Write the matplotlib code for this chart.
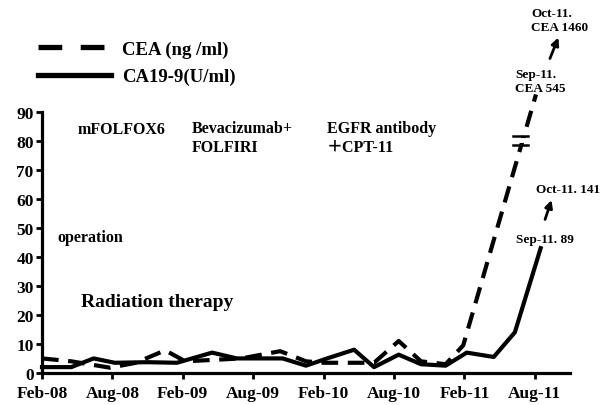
import matplotlib
matplotlib.use('Agg')
import matplotlib.pyplot as plt
from matplotlib.lines import Line2D

# months counted from Feb-08
ca_months = [0, 2.5, 4.4, 6.2, 9, 11.5, 14.5, 16.6, 20.5, 22.5, 24.3, 26.6, 28.3, 30.4, 32.3, 34.4, 36.2, 38.5, 40.3, 42.5]
ca199 = [2, 2, 5, 3.5, 3.7, 3.5, 7, 5, 5, 2.5, 5, 8, 2, 6.3, 3, 2.5, 7, 5.5, 14, 43]

cea_months = [0, 2.5, 5.8, 8, 10.5, 12.2, 14.6, 17, 20.3, 22.5, 24, 28.3, 30.4, 32.3, 34.4, 35.9, 42.1]
cea = [5, 4, 1.8, 3.5, 7.8, 4, 4.5, 5, 7.5, 4, 3.5, 3.5, 11, 4, 3, 9.5, 96]  # last point drawn above the axis break

tick_months = [0, 6, 12, 18, 24, 30, 36, 42]
tick_labels = ['Feb-08', 'Aug-08', 'Feb-09', 'Aug-09', 'Feb-10', 'Aug-10', 'Feb-11', 'Aug-11']
y_ticks = list(range(0, 91, 10))

plt.rcParams['font.family'] = ['Liberation Serif', 'Noto Sans CJK JP']
plt.rcParams['font.weight'] = 'bold'

fig = plt.figure(figsize=(6, 4.06), dpi=100)
ax = fig.add_axes([0.07, 0.079, 0.88, 0.643])

ax.plot(cea_months, cea, color='black', lw=3, linestyle=(0, (4, 2.3)), clip_on=False)
ax.plot(ca_months, ca199, color='black', lw=3, clip_on=False)

ax.set_xlim(0, 45)
ax.set_ylim(0, 90)
ax.set_xticks(tick_months)
ax.set_xticklabels(tick_labels)
ax.set_yticks(y_ticks)
for s in ['top', 'right']:
    ax.spines[s].set_visible(False)
for s in ['left', 'bottom']:
    ax.spines[s].set_linewidth(2.3)
ax.tick_params(axis='both', width=2, length=4, labelsize=12.5, direction='out')
ax.tick_params(axis='x', pad=5)
ax.tick_params(axis='y', pad=2)
for lab in ax.get_xticklabels() + ax.get_yticklabels():
    lab.set_fontweight('bold')

# axis break marks on the CEA line
ax.plot([40.1, 41.4], [80.2, 80.2], color='white', lw=3.5, clip_on=False)
ax.plot([40.1, 41.4], [81.8, 81.8], color='black', lw=1.8, clip_on=False)
ax.plot([40.1, 41.4], [78.6, 78.6], color='black', lw=1.8, clip_on=False)

# treatment labels
ax.text(3.0, 84.2, 'mFOLFOX6', fontsize=11.5, fontweight='bold', va='center')
ax.text(12.8, 81.1, 'Bevacizumab+\nFOLFIRI', fontsize=11.5, fontweight='bold', va='center', linespacing=1.2)
ax.text(24.3, 81.1, 'EGFR antibody\n\uff0bCPT-11', fontsize=11.5, fontweight='bold', va='center', linespacing=1.2)
ax.text(1.3, 46.9, 'operation', fontsize=11.5, fontweight='bold', va='center')
ax.text(3.3, 24.5, 'Radiation therapy', fontsize=14, fontweight='bold', va='center')

# marker annotations at the top right
ax.text(41.7, 121.7, 'Oct-11.\nCEA 1460', fontsize=9.5, fontweight='bold', va='center', linespacing=1.15)
ax.annotate('', xy=(44.1, 116.5), xytext=(43.2, 107.5), annotation_clip=False,
            arrowprops=dict(arrowstyle='-|>', lw=2, color='black', mutation_scale=11))
ax.text(40.3, 100.6, 'Sep-11.\nCEA 545', fontsize=9.5, fontweight='bold', va='center', linespacing=1.15)
ax.text(42.1, 63.5, 'Oct-11. 141', fontsize=9.5, fontweight='bold', va='center')
ax.annotate('', xy=(43.5, 60.5), xytext=(42.8, 52), annotation_clip=False,
            arrowprops=dict(arrowstyle='-|>', lw=2, color='black', mutation_scale=11))
ax.text(40.4, 46.3, 'Sep-11. 89', fontsize=9.5, fontweight='bold', va='center')

# legend
handles = [Line2D([], [], color='black', lw=3.8, linestyle=(0, (4.5, 3.5))),
           Line2D([], [], color='black', lw=3.8)]
fig.legend(handles, ['CEA (ng /ml)', 'CA19-9(U/ml)'], loc='upper left',
           bbox_to_anchor=(0.035, 0.94), frameon=False, handlelength=3.9,
           handletextpad=0.6, labelspacing=0.55, prop={'size': 13.5, 'weight': 'bold'})

fig.savefig('out.png', dpi=100)
